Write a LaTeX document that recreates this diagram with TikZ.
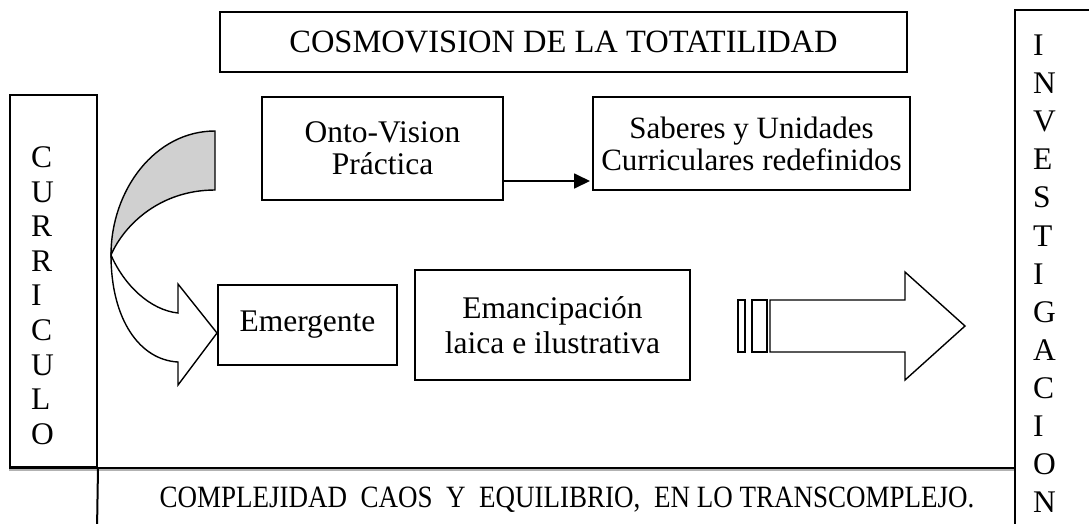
\documentclass[tikz,border=0pt]{standalone}
\usepackage{fontspec}
\setmainfont{Liberation Serif}
\usepackage{graphicx}
\usetikzlibrary{arrows.meta,calc}
\definecolor{bandgray}{RGB}{208,208,208}
\begin{document}
\begin{tikzpicture}[x=1pt,y=-1pt,
  box/.style={draw, line width=2pt, inner sep=0pt, align=center, font=\fontsize{31.5}{32}\selectfont},
  letter/.style={inner sep=0pt, font=\fontsize{31.5}{34}\selectfont, anchor=base west},
  shp/.style={draw, line width=1.4pt, line join=miter, fill=white},
  conn/.style={line width=1.8pt, -{Triangle[length=16pt,width=15pt]}},
  frame/.style={line width=2pt}]
\useasboundingbox (0,0) rectangle (1089,523);

% top box
\node[box, minimum width=687pt, minimum height=60pt, font=\fontsize{32.5}{34}\selectfont] (cosmo) at (563.5,42) {COSMOVISION DE LA TOTATILIDAD};

% left box CURRICULO
\node[box, minimum width=87pt, minimum height=372pt] (curr) at (53.5,281) {};
\foreach \l [count=\i from 0] in {C,U,R,R,I,C,U,L,O}
  \node[letter] (c\i) at (31,167.5+34.6*\i) {\l};

% right box INVESTIGACION
\node[box, minimum width=80pt, minimum height=520pt] (inv) at (1055,270) {};
\foreach \l [count=\i from 0] in {I,N,V,E,S,T,I,G,A,C,I,O,N}
  \node[letter] (v\i) at (1033,55.5+38.1*\i) {\l};

% bottom frame
\coordinate (botL) at (97,530);
\draw[gray!60, line width=1.2pt] ($(curr.south west)+(0,2)$) -- ($(curr.south west -| inv.west)+(0,2)$);
\draw[frame] (curr.south west) -- (curr.south west -| inv.west);
\draw[frame] (curr.south east) -- (botL);
\node[inner sep=0pt, anchor=base] (comp) at (567,507)
  {\resizebox{815pt}{\height}{\fontsize{31}{34}\selectfont COMPLEJIDAD\ \ CAOS\ \ Y\ \ EQUILIBRIO,\ \ EN LO TRANSCOMPLEJO.}};

% inner boxes
\node[box, minimum width=241pt, minimum height=103pt] (onto) at (382.5,148.5) {Onto-Vision\\Práctica};
\node[box, minimum width=317pt, minimum height=93pt, font=\fontsize{31}{32}\selectfont] (sab) at (751.5,143.5) {Saberes y Unidades\\Curriculares redefinidos};
\node[box, minimum width=179pt, minimum height=80pt] (emer) at (307.5,325) {Emergente};
\node[box, minimum width=275pt, minimum height=110pt, font=\fontsize{31.5}{35}\selectfont] (eman) at (552.5,325) {Emancipación\\laica e ilustrativa};

% arrow onto -> saberes
\coordinate (ae) at (590,181);
\draw[conn] (onto.east |- ae) -- (ae);

% curved arrow
\draw[shp, fill=bandgray] (215,131) .. controls (155,131) and (111,190) .. (111,255)
   .. controls (124,225) and (160,190) .. (215,190) -- cycle;
\draw[shp] (111,255) .. controls (124,285) and (150,310) .. (178,313) -- (178,284) -- (217,333)
   -- (178,385) -- (178,362) .. controls (140,360) and (111,320) .. (111,255) -- cycle;

% striped block arrow
\draw[shp] (738,300) rectangle (745,352);
\draw[shp] (752,300) rectangle (767,352);
\draw[shp] (770,300) -- (905,300) -- (905,272) -- (965,326) -- (905,380) -- (905,352) -- (770,352) -- cycle;
\end{tikzpicture}
\end{document}
